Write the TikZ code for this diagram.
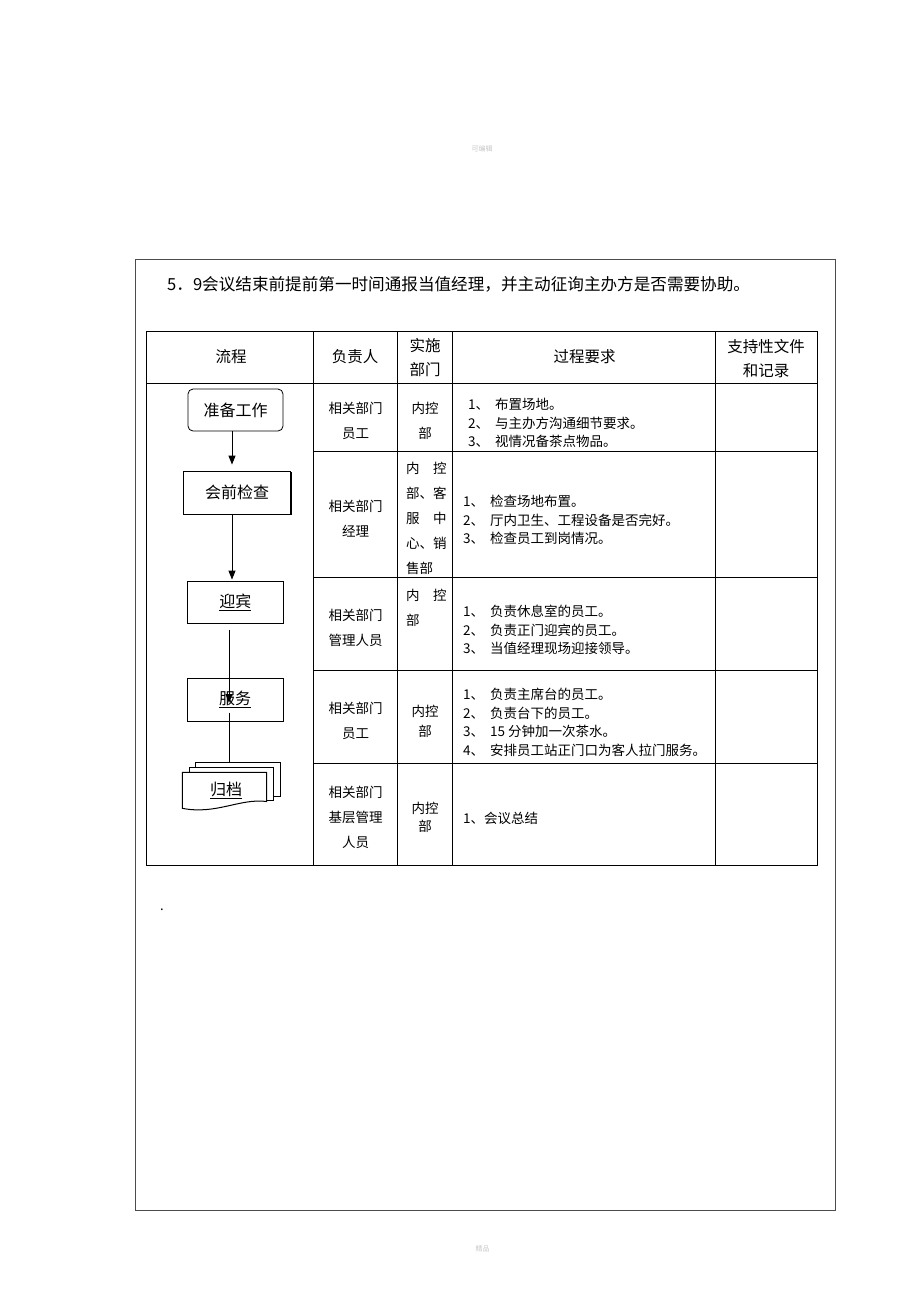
\documentclass[tikz,border=0pt]{standalone}
\usepackage{fontspec}
\setmainfont{Noto Sans CJK SC}
\usetikzlibrary{positioning,arrows.meta,shadows}

\tikzset{
  head/.style={inner sep=0pt, align=center, font=\fontsize{15.5}{24}\selectfont},
  cell/.style={inner sep=0pt, align=center, font=\fontsize{13.5}{25}\selectfont},
  req/.style={inner sep=0pt, anchor=west, align=left, font=\fontsize{13.5}{18.5}\selectfont},
  flowbox/.style={draw, line width=0.8pt, fill=white, inner sep=0pt,
    minimum width=96pt, minimum height=42pt, font=\fontsize{16}{16}\selectfont},
  flowedge/.style={line width=1pt, -{Triangle[width=7pt,length=9pt]}},
  flowline/.style={line width=1pt},
  sheet/.style={draw, line width=1pt, fill=white},
  grid/.style={line width=0.9pt},
}
\newcommand{\num}[1]{\makebox[27pt][l]{#1、}}

\begin{document}
\begin{tikzpicture}[x=1pt,y=-1pt]

  \useasboundingbox (0,0) rectangle (920,1302);

  % Page

  \node[inner sep=0pt, text=gray!45, font=\fontsize{7}{7}\selectfont] (mark_top) at (482,149) {可编辑};
  \node[inner sep=0pt, text=gray!45, font=\fontsize{7}{7}\selectfont] (mark_bot) at (482.5,1249) {精品};
  \draw[line width=0.9pt, black!70] (135,259) rectangle (835.5,1210.5);

  \node[inner sep=0pt, anchor=west, font=\fontsize{16.6}{16.6}\selectfont] (title) at (167,284) {5．9会议结束前提前第一时间通报当值经理，并主动征询主办方是否需要协助。};

  % Table

  \draw[grid] (146.5,331) rectangle (817,865);
  \foreach \x in {313,397,452,715}
    \draw[grid] (\x,331) -- (\x,865);
  \draw[grid] (146.5,383) -- (817,383);
  \foreach \y in {451,577,670,763}
    \draw[grid] (313,\y) -- (817,\y);

  \node[head] (h_flow) at (231,357) {流程};
  \node[head] (h_owner) at (355,357) {负责人};
  \node[head] (h_dept) at (425,358) {实施\\部门};
  \node[head] (h_req) at (584.5,357) {过程要求};
  \node[head] (h_doc) at (766,359) {支持性文件\\和记录};

  % Owners

  \node[cell] (o_prep) at (355.5,420.5) {相关部门\\员工};
  \node[cell] (o_check) at (355.5,518.3) {相关部门\\经理};
  \node[cell] (o_greet) at (355.5,627.5) {相关部门\\管理人员};
  \node[cell] (o_serve) at (355.5,720.8) {相关部门\\员工};
  \node[cell] (o_arch) at (355.5,817.8) {相关部门\\基层管理\\人员};

  % Departments

  \node[cell] (d_prep) at (425,420.5) {内控\\部};
  \node[cell, align=left, anchor=west] (d_check) at (406,518.5)
    {\makebox[40.5pt][s]{内\hfill 控}\\部、客\\\makebox[40.5pt][s]{服\hfill 中}\\心、销\\售部};
  \node[cell, align=left, anchor=west] (d_greet) at (406,607.5)
    {\makebox[40.5pt][s]{内\hfill 控}\\部};
  \node[cell, font=\fontsize{13.5}{19.5}\selectfont] (d_serve) at (425,721.3) {内控\\部};
  \node[cell, font=\fontsize{13.5}{18.5}\selectfont] (d_arch) at (425,817.5) {内控\\部};

  % Requirements

  \node[req] (r_prep) at (468,423) {\num{1}布置场地。\\\num{2}与主办方沟通细节要求。\\\num{3}视情况备茶点物品。};
  \node[req] (r_check) at (463,520) {\num{1}检查场地布置。\\\num{2}厅内卫生、工程设备是否完好。\\\num{3}检查员工到岗情况。};
  \node[req] (r_greet) at (463,630) {\num{1}负责休息室的员工。\\\num{2}负责正门迎宾的员工。\\\num{3}当值经理现场迎接领导。};
  \node[req] (r_serve) at (463,722.5) {\num{1}负责主席台的员工。\\\num{2}负责台下的员工。\\\num{3}15 分钟加一次茶水。\\\num{4}安排员工站正门口为客人拉门服务。};
  \node[req] (r_arch) at (463,818.3) {1、会议总结};

  % Flow

  \coordinate (spine) at (232,0);
  \coordinate (spine2) at (229,0);

  \node[flowbox, rounded corners=5pt, minimum width=95pt] (prep) at (235.5,410) {准备工作};
  \node[flowbox, minimum width=107pt, minimum height=43pt,
    drop shadow={shadow xshift=1.3pt, shadow yshift=-1.3pt, fill=black, opacity=1}] (check) at (237,492.5) {会前检查};
  \node[flowbox] (greet) at (235.3,602.5) {\underline{迎宾}};
  \node[flowbox, minimum height=43pt] (serve) at (235,699.7) {\underline{服务}};

  \draw[sheet] (195.7,762.7) rectangle (280.7,796.7);
  \draw[sheet] (189,767.7) rectangle (273,800);
  \draw[sheet] (182.3,772.3) -- (266.7,772.3) -- (266.7,801.5)
    .. controls (240,798) and (216,815) .. (182.3,808.3) -- cycle;
  \node[inner sep=0pt, font=\fontsize{16}{16}\selectfont] (arch) at (226,790) {\underline{归档}};
  \coordinate (arch_top) at (229,762.7);

  \node[inner sep=0pt, anchor=base west, font=\fontsize{13}{13}\selectfont] (dot) at (160,910) {.};

  % Edges

  \draw[flowedge] (prep.south -| spine) -- ([yshift=6pt]check.north -| spine); %
  \draw[flowedge] (check.south -| spine) -- ([yshift=1.5pt]greet.north -| spine); %
  \draw[flowedge] ([yshift=-6pt]greet.south -| spine2) -- ([yshift=-3.3pt]serve.center -| spine2); %
  \draw[flowline] ([yshift=-13pt]serve.center -| spine2) -- (arch_top); %

\end{tikzpicture}
\end{document}
